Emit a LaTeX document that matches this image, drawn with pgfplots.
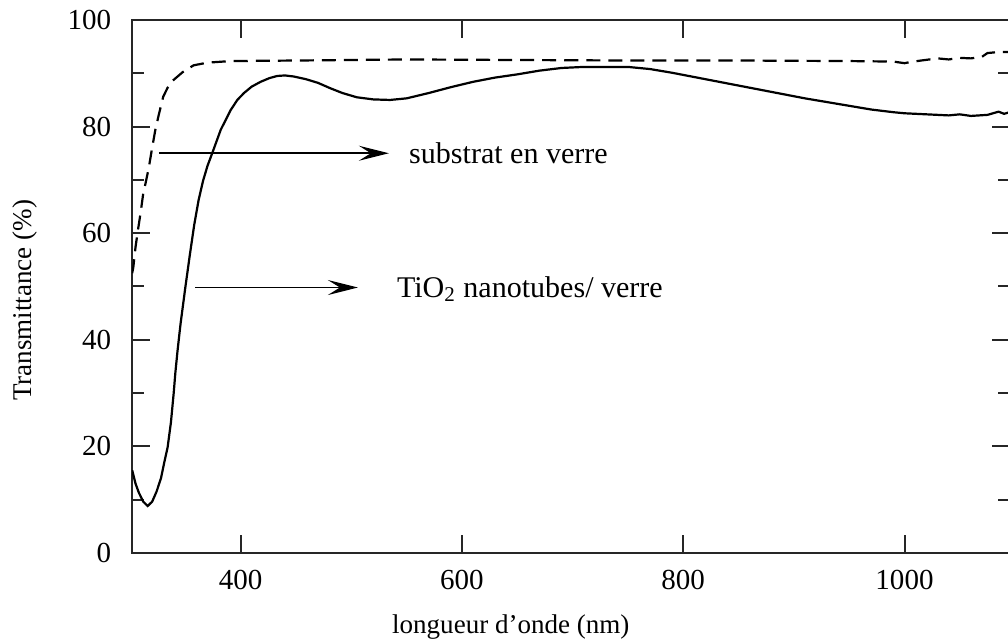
\documentclass[border=0pt]{standalone}
\usepackage{fontspec}
\setmainfont{Liberation Serif}
\usepackage{pgfplots}
\pgfplotsset{compat=1.18}
\usetikzlibrary{arrows.meta}

\begin{document}
\begin{tikzpicture}
\begin{axis}[
  name=ax,
  scale only axis,
  width=438pt, height=266pt,
  xmin=302, xmax=1095, ymin=0, ymax=100,
  xtick={400,600,800,1000},
  ytick={0,20,...,100},
  minor ytick={10,30,...,90},
  tick align=inside,
  major tick length=9pt,
  minor tick length=6pt,
  axis line style={line width=1pt, black!85},
  tick style={line width=1pt, black!85},
  tick label style={font=\fontsize{14.5}{17}\selectfont},
  /pgf/number format/assume math mode=true,
  /pgf/number format/1000 sep={},
  xticklabel style={yshift=-5pt},
  yticklabel style={xshift=-7pt},
]
% glass substrate
\addplot[black, line width=1.1pt, dash pattern=on 7pt off 4pt] coordinates {
 (302,52.5) (303,53.6) (305,57.4) (307.5,61) (309.5,63.7) (312,67.5)
 (314,69.3) (317,72.3) (320,76) (323,79.5) (326,82.2) (330,85.6)
 (334,87.3) (338.5,88.6) (347.5,90.2) (357.5,91.5) (370,92) (391,92.3)
 (450,92.4) (550,92.6) (650,92.5) (750,92.4) (850,92.4) (950,92.3)
 (990,92.2) (1000,91.9) (1005,92.1) (1015,92.4) (1030,92.8) (1040,92.6)
 (1050,92.9) (1060,92.8) (1070,93.1) (1075,93.8) (1085,94) (1095,94)
};
% TiO2 nanotubes on glass
\addplot[black, line width=1.1pt] coordinates {
 (302,15.5) (305,13) (308,11.3) (312,9.6) (316,8.8) (320,9.6) (324,11.5)
 (328,14) (331,17) (334,19.8) (337,24.5) (339.5,30) (341,33.8) (343,38)
 (345.7,43) (350,49.8) (354,55.8) (358,61.5) (362,66.2) (366,69.8)
 (370,72.6) (375,75.4) (382,79.4) (391,83.1) (397,85) (403,86.3)
 (410,87.5) (418,88.4) (426,89.1) (433,89.5) (440,89.6) (448,89.4)
 (459,88.9) (470,88.2) (481,87.2) (492,86.3) (505,85.5) (520,85.1)
 (535,85) (550,85.3) (570,86.3) (590,87.4) (610,88.4) (630,89.2)
 (650,89.8) (670,90.5) (690,91) (710,91.2) (730,91.2) (750,91.2)
 (770,90.8) (790,90.1) (810,89.3) (830,88.5) (850,87.7) (870,86.9)
 (890,86.1) (910,85.3) (930,84.6) (950,83.9) (970,83.2) (990,82.7)
 (1000,82.5) (1020,82.3) (1040,82.1) (1050,82.3) (1060,82.0) (1075,82.2)
 (1085,82.8) (1090,82.4) (1095,82.7)
};
% annotations
\draw[line width=0.8pt, -{Stealth[length=15pt,width=7.5pt,inset=6pt]}]
  (axis cs:326,75) -- (axis cs:534,75);
\node[anchor=base west, inner sep=0pt, font=\fontsize{15}{18}\selectfont]
  at (axis cs:552,73.1) {substrat en verre};
\draw[line width=0.8pt, -{Stealth[length=15pt,width=7.5pt,inset=6pt]}]
  (axis cs:359,49.8) -- (axis cs:506,49.8);
\node[anchor=base west, inner sep=0pt, font=\fontsize{15}{18}\selectfont]
  at (axis cs:541,47.9) {TiO\textsubscript{2} nanotubes/ verre};
\end{axis}
\node[rotate=90, font=\fontsize{13.5}{16}\selectfont]
  at ([xshift=-53.5pt, yshift=-7pt]ax.west) {Transmittance (\%)};
\node[font=\fontsize{13.5}{16}\selectfont]
  at ([xshift=-30pt, yshift=-37pt]ax.south) {longueur d’onde (nm)};
\pgfresetboundingbox
\useasboundingbox ([shift={(-66pt,-45pt)}]ax.south west)
  rectangle ([shift={(-0.8pt,10pt)}]ax.north east);
\end{tikzpicture}
\end{document}
